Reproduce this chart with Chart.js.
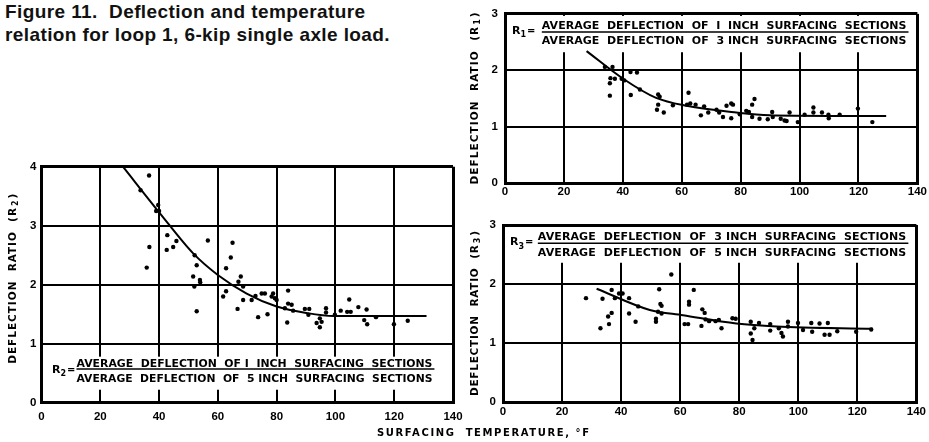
<!DOCTYPE html>
<html><head><meta charset="utf-8">
<script src="https://cdn.jsdelivr.net/npm/chart.js@4.4.0/dist/chart.umd.min.js"></script>
<style>
html,body{margin:0;padding:0;background:#fff;width:929px;height:442px;overflow:hidden;position:relative;}
#title{position:absolute;left:5px;top:0px;font:bold 19px "Liberation Sans",Arial,sans-serif;letter-spacing:0.4px;line-height:23px;color:#111;white-space:nowrap;}
canvas{position:absolute;}
#xtitle{position:absolute;left:377px;top:427px;font:bold 10px "DejaVu Sans",sans-serif;letter-spacing:1.6px;color:#000;white-space:nowrap;}
</style></head>
<body>
<div id="title">Figure 11.&nbsp; Deflection and temperature<br>relation for loop 1, 6-kip single axle load.</div>
<canvas id="cL" width="470" height="292" style="left:0;top:150px"></canvas>
<canvas id="cTR" width="459" height="200" style="left:470px;top:0"></canvas>
<canvas id="cBR" width="459" height="232" style="left:470px;top:210px"></canvas>
<div id="xtitle">SURFACING&nbsp; TEMPERATURE, °F</div>
<script>
// ---------- data ----------
const xTickStep = 20;
const tempMin = 0, tempMax = 140;

// R2 (1 inch / 5 inch)
const r2Temps  = [36.6,33.7,39.7,39,40,36.7,35.8,42.8,42.6,44.8,45.9,56.6,65,64.4,62.8,52.1,52.8,51.6,53.9,54,52,52.8,67.8,67,68.6,61.8,62.8,66.7,68.6,71.5,72.8,74.9,76,78.8,78.3,79.4,73.7,76.9,80,83.9,83.9,85.1,82.8,83.6,85.6,89.6,91.1,90.8,94.7,93.6,94.7,95.3,96.8,96.8,99.8,101.8,104,105.2,104.7,107.8,110.6,109.8,110.8,113.8,119.9,124.6];
const r2Ratios = [3.85,3.6,3.35,3.25,3.25,2.64,2.29,2.84,2.59,2.64,2.74,2.75,2.71,2.46,2.28,2.5,2.33,2.14,2.08,2.04,1.97,1.55,2.14,2.05,1.97,1.8,1.89,1.59,1.74,1.74,1.81,1.85,1.85,1.85,1.8,1.77,1.45,1.5,1.74,1.9,1.68,1.66,1.6,1.36,1.56,1.59,1.59,1.49,1.43,1.35,1.28,1.37,1.6,1.53,1.49,1.56,1.54,1.54,1.75,1.62,1.58,1.4,1.33,1.45,1.33,1.39];
const r2CurveTemps  = [27.7,40.3,51.6,60.1,69.8,80,90.2,99.3,115,131];
const r2CurveRatios = [4.0,3.21,2.53,2.16,1.85,1.63,1.52,1.47,1.47,1.47];

// R1 (1 inch / 3 inch)
const r1Temps  = [33.9,36.5,35.8,35.6,37.3,39.6,40.5,35.6,42.6,44.8,42.7,45.8,52,52.5,52,51.6,53.9,57,62.3,61.8,62.9,64.7,67.6,66.5,69,71.8,72.7,75.2,76.8,77.4,74,76.8,79.7,81.9,84.7,83.9,82.8,83.9,86.4,89.2,90.7,90.9,93.6,94.9,95.6,96.6,99.4,101.7,104.7,104.7,107.6,109.8,109.9,113.6,119.8,124.7];
const r1Ratios = [2.06,2.06,1.86,1.77,1.85,1.85,1.82,1.55,1.97,1.96,1.56,1.66,1.57,1.53,1.39,1.3,1.25,1.38,1.6,1.39,1.41,1.39,1.36,1.2,1.25,1.3,1.25,1.37,1.41,1.39,1.17,1.15,1.22,1.28,1.49,1.39,1.26,1.17,1.14,1.13,1.26,1.17,1.14,1.11,1.1,1.25,1.08,1.21,1.34,1.25,1.25,1.21,1.15,1.21,1.32,1.08];
const r1CurveTemps  = [27.7,40.1,51.3,61.6,78.5,89.8,110,129.4];
const r1CurveRatios = [2.34,1.85,1.51,1.37,1.25,1.2,1.19,1.19];

// R3 (3 inch / 5 inch)
const r3Temps  = [28.1,33.7,36.8,37.9,39.3,40.5,42.7,45.8,42.7,36.8,35.6,35.9,33,44.9,52.9,53.3,53.7,52.5,53.7,51.8,51.8,57,64.6,63,63,61.5,62.7,67.5,68.3,68.6,67.2,69.8,72,73.1,74,77.7,78.8,83.9,85.1,83.9,84.5,86.7,90.5,90.5,93.4,94.3,94.8,96.5,96.5,99.9,101.6,104.4,104.7,107.2,110,108.9,110.6,113.2,119.6,124.7];
const r3Ratios = [1.76,1.75,1.9,1.76,1.84,1.84,1.76,1.62,1.5,1.51,1.45,1.32,1.25,1.36,1.91,1.66,1.63,1.53,1.5,1.41,1.36,2.16,1.9,1.7,1.65,1.32,1.32,1.57,1.51,1.4,1.29,1.37,1.37,1.39,1.25,1.42,1.41,1.36,1.25,1.16,1.05,1.34,1.32,1.21,1.25,1.17,1.11,1.36,1.28,1.34,1.22,1.34,1.19,1.33,1.34,1.14,1.14,1.2,1.19,1.23];
const r3CurveTemps  = [31.7,49.7,61,79,92.6,125.2];
const r3CurveRatios = [1.92,1.56,1.47,1.33,1.28,1.24];

const Y_TITLE = 'DEFLECTION  RATIO  (R';
const NUM_R1 = 'AVERAGE  DEFLECTION  OF  I  INCH  SURFACING  SECTIONS';
const DEN_R1 = 'AVERAGE  DEFLECTION  OF  3 INCH  SURFACING  SECTIONS';
const NUM_R2 = 'AVERAGE  DEFLECTION  OF I  INCH  SURFACING  SECTIONS';
const DEN_R2 = 'AVERAGE  DEFLECTION  OF  5 INCH  SURFACING  SECTIONS';
const NUM_R3 = 'AVERAGE  DEFLECTION  OF  3 INCH  SURFACING  SECTIONS';
const DEN_R3 = 'AVERAGE  DEFLECTION  OF  5 INCH  SURFACING  SECTIONS';

// ---------- helpers ----------
const LETTER = '"DejaVu Sans", sans-serif';
function fitText(ctx, text, x0, x1, yy) {
  ctx.letterSpacing = '0px';
  const w = ctx.measureText(text).width;
  const n = text.length;
  const ls = (x1 - x0 - w) / n;
  if (ls < 0) { ctx.fillText(text, x0, yy, x1 - x0); return; }
  ctx.letterSpacing = ls + 'px';
  ctx.fillText(text, x0, yy);
  ctx.letterSpacing = '0px';
}

const annotPlugin = {
  id: 'annot',
  beforeDatasetsDraw(chart, args, o) {
    const {ctx, chartArea: a, scales: {y}} = chart;
    const f = o.formula;
    const yt = y.getPixelForValue(f.boxTop), yb = y.getPixelForValue(f.boxBottom);
    ctx.save();
    ctx.fillStyle = '#fff';
    const top = Math.max(yt, a.top + 2), bot = Math.min(yb, a.bottom - 2);
    ctx.fillRect(a.left + 2, top, a.right - a.left - 4, bot - top);
    ctx.restore();
  },
  afterDatasetsDraw(chart, args, o) {
    const {ctx, chartArea: a, scales: {x, y}} = chart;
    const f = o.formula;
    ctx.save();
    ctx.fillStyle = '#000'; ctx.strokeStyle = '#000';
    ctx.textBaseline = 'middle'; ctx.textAlign = 'left';
    ctx.font = 'bold 11px ' + LETTER;
    const x0 = x.getPixelForValue(f.x0), x1 = x.getPixelForValue(f.x1);
    fitText(ctx, f.num, x0, x1, y.getPixelForValue(f.numY));
    fitText(ctx, f.den, x0, x1, y.getPixelForValue(f.denY));
    ctx.lineWidth = 1.6;
    ctx.beginPath();
    const by = y.getPixelForValue(f.barY);
    ctx.moveTo(x0, by); ctx.lineTo(x1 + 2, by); ctx.stroke();
    // R_n =
    const rx = x.getPixelForValue(f.rX), ry = y.getPixelForValue(f.rY);
    ctx.font = 'bold 11px ' + LETTER;
    ctx.fillText('R', rx, ry - 2);
    const rw = ctx.measureText('R').width;
    ctx.font = 'bold 8px ' + LETTER;
    ctx.fillText(f.sub, rx + rw, ry + 2);
    const sw = ctx.measureText(f.sub).width;
    ctx.font = 'bold 10px ' + LETTER;
    ctx.fillText('=', rx + rw + sw + 1, ry - 2);
    // y title: 'DEFLECTION RATIO (R' + subscript + ')'
    ctx.translate(a.left - o.yTitleOffset, (a.top + a.bottom) / 2 + (o.yTitleShift || 0));
    ctx.rotate(-Math.PI / 2);
    const L = o.yTitleLen;
    ctx.font = 'bold 8px ' + LETTER;
    const subW = ctx.measureText(f.sub).width + 2;
    ctx.font = 'bold 10.5px ' + LETTER;
    const parW = ctx.measureText(')').width;
    const mainEnd = L / 2 - subW - parW - 1;
    fitText(ctx, Y_TITLE, -L / 2, mainEnd, 0);
    ctx.font = 'bold 8px ' + LETTER;
    ctx.fillText(f.sub, mainEnd + 1, 3);
    ctx.font = 'bold 10.5px ' + LETTER;
    ctx.fillText(')', mainEnd + subW + 1, 0);
    ctx.restore();
  }
};
Chart.register(annotPlugin);

function pts(xs, ys) { return xs.map((t, i) => ({x: t, y: ys[i]})); }

function makeChart(id, cfg) {
  const edge = (v, max) => (v === 0 || v === max) ? 3 : 2;
  return new Chart(document.getElementById(id), {
    type: 'scatter',
    data: { datasets: [
      { type: 'line', data: pts(cfg.cT, cfg.cV), borderColor: '#000', borderWidth: 2, pointRadius: 0, fill: false, cubicInterpolationMode: 'monotone' },
      { data: pts(cfg.t, cfg.v), backgroundColor: '#000', borderColor: '#000', pointRadius: 2.2, pointBorderWidth: 0 }
    ]},
    options: {
      responsive: false, animation: false, devicePixelRatio: 1,
      layout: { padding: { left: 0, right: cfg.padR, top: cfg.padT, bottom: 0 } },
      plugins: { legend: { display: false }, tooltip: { enabled: false }, annot: cfg.annot },
      scales: {
        x: { type: 'linear', min: tempMin, max: tempMax,
             ticks: { stepSize: xTickStep, color: '#000', padding: cfg.xPad, maxRotation: 0,
                      font: { family: '"Liberation Sans", Arial, sans-serif', weight: 'bold', size: 11.5 } },
             grid: { color: '#000', lineWidth: c => edge(c.tick ? c.tick.value : -1, tempMax), drawTicks: false },
             border: { color: '#000', width: 3 },
             afterFit(s) { s.height = cfg.xH; } },
        y: { type: 'linear', min: 0, max: cfg.yMax,
             ticks: { stepSize: 1, color: '#000', padding: cfg.yPad,
                      font: { family: '"Liberation Sans", Arial, sans-serif', weight: 'bold', size: 11.5 } },
             grid: { color: '#000', lineWidth: c => edge(c.tick ? c.tick.value : -1, cfg.yMax), drawTicks: false },
             border: { color: '#000', width: 3 },
             afterFit(s) { s.width = cfg.yW; } }
      }
    }
  });
}

makeChart('cL', {
  t: r2Temps, v: r2Ratios, cT: r2CurveTemps, cV: r2CurveRatios, yMax: 4,
  padR: 17, padT: 16.7, xH: 39.3, yW: 41.5, xPad: 7, yPad: 5,
  annot: { yTitleOffset: 28.5, yTitleLen: 170, yTitleShift: -6,
    formula: { boxTop: 0.78, boxBottom: 0.22, num: NUM_R2, den: DEN_R2, x0: 11.9, x1: 133, numY: 0.66, barY: 0.57, denY: 0.40, rX: 3.6, rY: 0.52, sub: '2' } }
});
makeChart('cTR', {
  t: r1Temps, v: r1Ratios, cT: r1CurveTemps, cV: r1CurveRatios, yMax: 3,
  padR: 11, padT: 8.3, xH: 17, yW: 35, xPad: 2, yPad: 7,
  annot: { yTitleOffset: 30, yTitleLen: 172,
    formula: { boxTop: 3, boxBottom: 2.32, num: NUM_R1, den: DEN_R1, x0: 12.5, x1: 136.3, numY: 2.78, barY: 2.68, denY: 2.52, rX: 2.4, rY: 2.66, sub: '1' } }
});
makeChart('cBR', {
  t: r3Temps, v: r3Ratios, cT: r3CurveTemps, cV: r3CurveRatios, yMax: 3,
  padR: 12, padT: 15, xH: 40, yW: 33, xPad: 3, yPad: 7,
  annot: { yTitleOffset: 28, yTitleLen: 165,
    formula: { boxTop: 3, boxBottom: 2.36, num: NUM_R3, den: DEN_R3, x0: 11.8, x1: 136.6, numY: 2.8, barY: 2.69, denY: 2.53, rX: 2.4, rY: 2.67, sub: '3' } }
});
</script>
</body></html>
